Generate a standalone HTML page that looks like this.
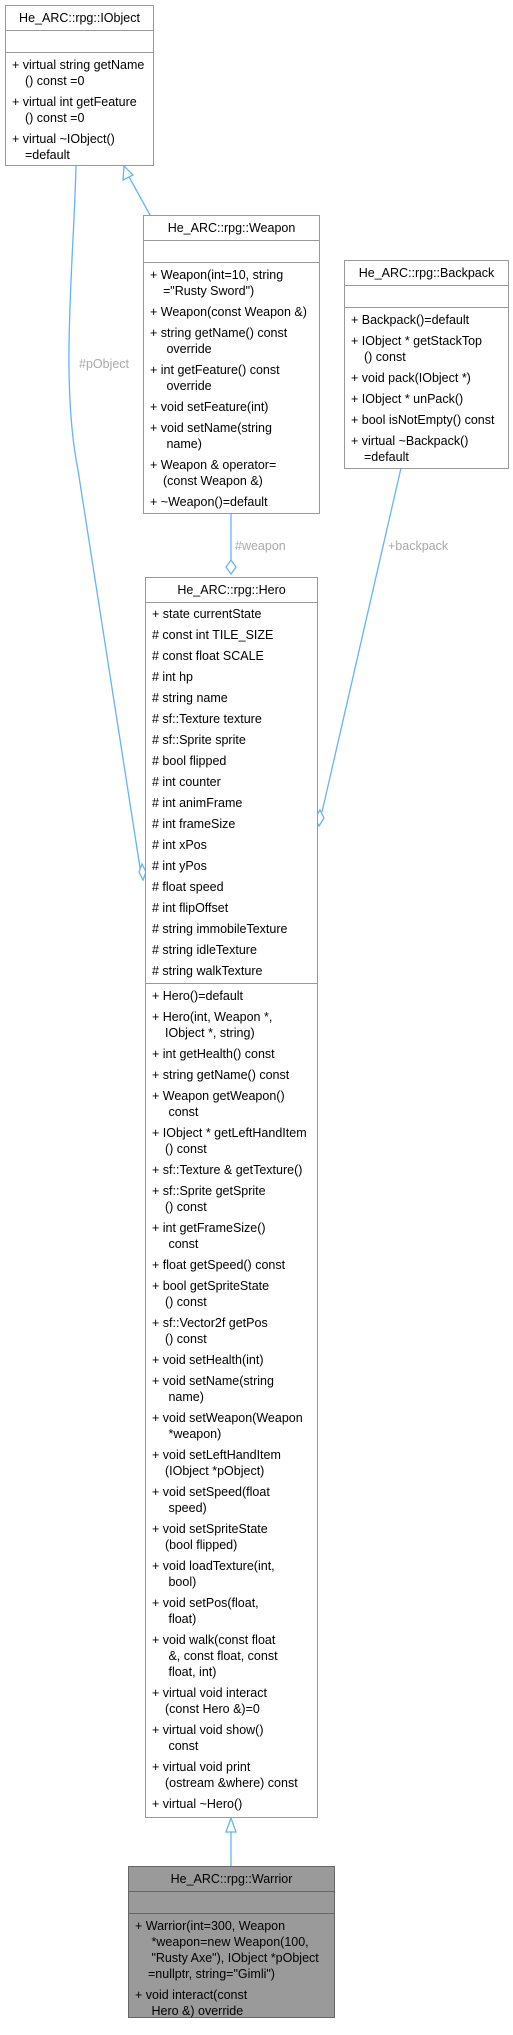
<!DOCTYPE html>
<html><head><meta charset="utf-8"><style>
body{margin:0;width:513px;height:2035px;background:#fff;position:relative;overflow:hidden;font-family:"Liberation Sans",Arial,sans-serif;font-size:12.5px;color:#000}
.box{position:absolute;border:1px solid #999;background:#fff;box-sizing:border-box}
.hd{height:24px;line-height:24px;text-align:center;border-bottom:1px solid #999;white-space:nowrap}
.em{height:21px;border-bottom:1px solid #999}
.sec{padding-top:4px;padding-bottom:0}
.e{line-height:16px;margin-bottom:5px;padding-left:19px;text-indent:-13px;white-space:nowrap}
.sec2{border-bottom:1px solid #999;padding-top:3px}
.war{background:#9a9a9a;border-color:#666}
.war .hd,.war .em{border-color:#666}
.lbl{position:absolute;color:#aaa;font-size:12.5px;white-space:nowrap}
svg{position:absolute;left:0;top:0}
</style></head><body>
<svg width="513" height="2035">
<g fill="none" stroke="#63b3ff" stroke-width="1.3">
<path d="M76,165 C74,260 60,380 78,470 L141,874"/>
<path d="M143,880 L139,872 L142,864 L146,872 Z" fill="#fff"/>
<line x1="150" y1="215" x2="128" y2="175"/>
<path d="M124,166 L123,180 L133,175 Z" fill="#fff"/>
<line x1="231" y1="513" x2="231" y2="560"/>
<path d="M231,560 L236,567 L231,574 L226,567 Z" fill="#fff"/>
<line x1="401" y1="468" x2="322" y2="812"/>
<path d="M319,826 L315,818 L320,810 L324,818 Z" fill="#fff"/>
<line x1="231" y1="1866" x2="231" y2="1832"/>
<path d="M231,1818 L226,1832 L236,1832 Z" fill="#fff"/>
</g></svg>
<div class="lbl" style="left:79px;top:357px">#pObject</div>
<div class="lbl" style="left:235px;top:539px">#weapon</div>
<div class="lbl" style="left:388px;top:539px">+backpack</div>

<div class="box" style="left:5px;top:5px;width:149px;height:161px">
<div class="hd">He_ARC::rpg::IObject</div><div class="em"></div>
<div class="sec">
<div class="e">+ virtual string getName<br>() const =0</div>
<div class="e">+ virtual int getFeature<br>() const =0</div>
<div class="e">+ virtual ~IObject()<br>=default</div>
</div></div>

<div class="box" style="left:143px;top:215px;width:177px;height:299px">
<div class="hd">He_ARC::rpg::Weapon</div><div class="em"></div>
<div class="sec">
<div class="e">+ Weapon(int=10, string<br>="Rusty Sword")</div>
<div class="e">+ Weapon(const Weapon &amp;)</div>
<div class="e">+ string getName() const<br>&nbsp;override</div>
<div class="e">+ int getFeature() const<br>&nbsp;override</div>
<div class="e">+ void setFeature(int)</div>
<div class="e">+ void setName(string<br>&nbsp;name)</div>
<div class="e">+ Weapon &amp; operator=<br>(const Weapon &amp;)</div>
<div class="e">+ ~Weapon()=default</div>
</div></div>

<div class="box" style="left:344px;top:260px;width:165px;height:209px">
<div class="hd">He_ARC::rpg::Backpack</div><div class="em"></div>
<div class="sec">
<div class="e">+ Backpack()=default</div>
<div class="e">+ IObject * getStackTop<br>() const</div>
<div class="e">+ void pack(IObject *)</div>
<div class="e">+ IObject * unPack()</div>
<div class="e">+ bool isNotEmpty() const</div>
<div class="e">+ virtual ~Backpack()<br>=default</div>
</div></div>

<div class="box" style="left:145px;top:577px;width:173px;height:1241px">
<div class="hd">He_ARC::rpg::Hero</div>
<div class="sec2" style="height:381px;box-sizing:border-box">
<div class="e">+ state currentState</div>
<div class="e"># const int TILE_SIZE</div>
<div class="e"># const float SCALE</div>
<div class="e"># int hp</div>
<div class="e"># string name</div>
<div class="e"># sf::Texture texture</div>
<div class="e"># sf::Sprite sprite</div>
<div class="e"># bool flipped</div>
<div class="e"># int counter</div>
<div class="e"># int animFrame</div>
<div class="e"># int frameSize</div>
<div class="e"># int xPos</div>
<div class="e"># int yPos</div>
<div class="e"># float speed</div>
<div class="e"># int flipOffset</div>
<div class="e"># string immobileTexture</div>
<div class="e"># string idleTexture</div>
<div class="e"># string walkTexture</div>
</div>
<div class="sec">
<div class="e">+ Hero()=default</div>
<div class="e">+ Hero(int, Weapon *,<br>IObject *, string)</div>
<div class="e">+ int getHealth() const</div>
<div class="e">+ string getName() const</div>
<div class="e">+ Weapon getWeapon()<br>&nbsp;const</div>
<div class="e">+ IObject * getLeftHandItem<br>() const</div>
<div class="e">+ sf::Texture &amp; getTexture()</div>
<div class="e">+ sf::Sprite getSprite<br>() const</div>
<div class="e">+ int getFrameSize()<br>&nbsp;const</div>
<div class="e">+ float getSpeed() const</div>
<div class="e">+ bool getSpriteState<br>() const</div>
<div class="e">+ sf::Vector2f getPos<br>() const</div>
<div class="e">+ void setHealth(int)</div>
<div class="e">+ void setName(string<br>&nbsp;name)</div>
<div class="e">+ void setWeapon(Weapon<br>&nbsp;*weapon)</div>
<div class="e">+ void setLeftHandItem<br>(IObject *pObject)</div>
<div class="e">+ void setSpeed(float<br>&nbsp;speed)</div>
<div class="e">+ void setSpriteState<br>(bool flipped)</div>
<div class="e">+ void loadTexture(int,<br>&nbsp;bool)</div>
<div class="e">+ void setPos(float,<br>&nbsp;float)</div>
<div class="e">+ void walk(const float<br>&nbsp;&amp;, const float, const<br>&nbsp;float, int)</div>
<div class="e">+ virtual void interact<br>(const Hero &amp;)=0</div>
<div class="e">+ virtual void show()<br>&nbsp;const</div>
<div class="e">+ virtual void print<br>(ostream &amp;where) const</div>
<div class="e">+ virtual ~Hero()</div>
</div></div>

<div class="box war" style="left:128px;top:1866px;width:207px;height:152px">
<div class="hd">He_ARC::rpg::Warrior</div><div class="em"></div>
<div class="sec">
<div class="e">+ Warrior(int=300, Weapon<br>&nbsp;*weapon=new Weapon(100,<br>&nbsp;"Rusty Axe"), IObject *pObject<br>=nullptr, string="Gimli")</div>
<div class="e">+ void interact(const<br>&nbsp;Hero &amp;) override</div>
</div></div>
</body></html>
